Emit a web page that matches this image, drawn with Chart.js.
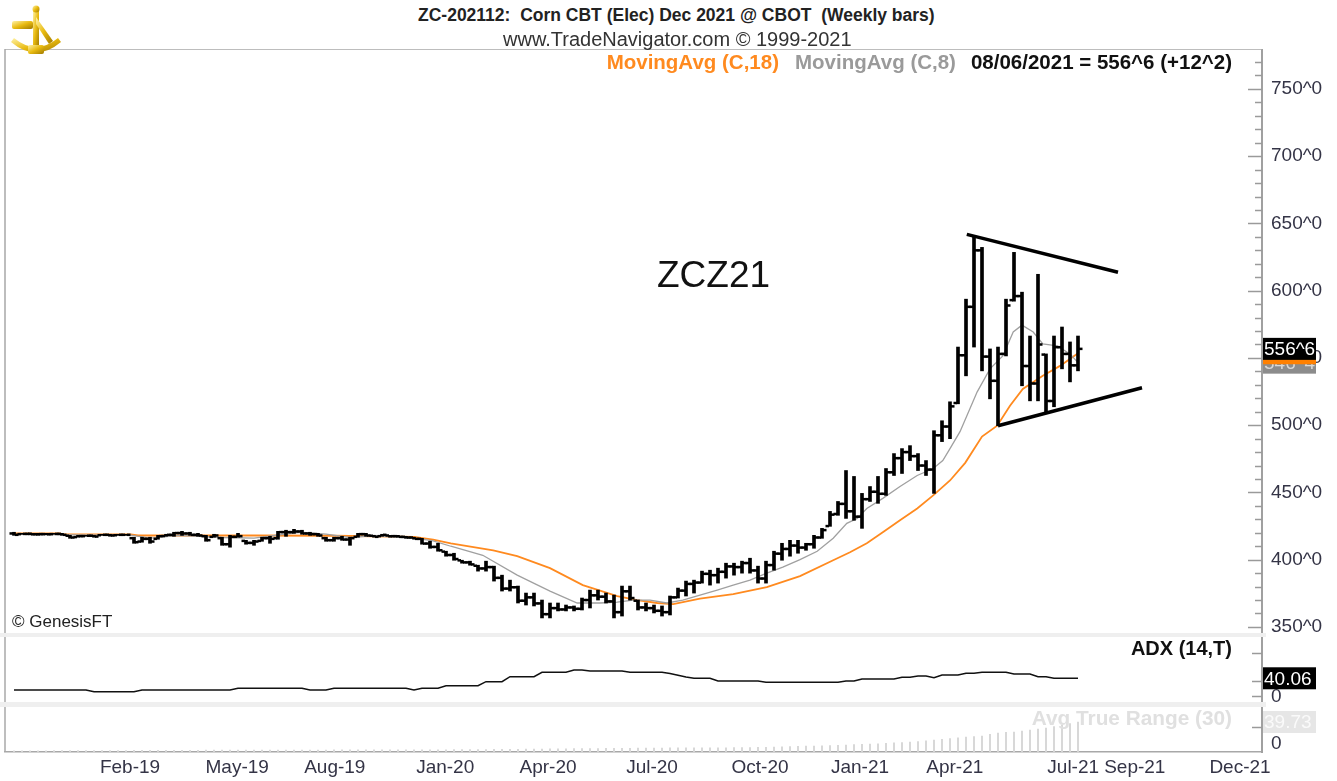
<!DOCTYPE html>
<html>
<head>
<meta charset="utf-8">
<script src="https://cdn.jsdelivr.net/npm/chart.js@4.4.0/dist/chart.umd.min.js"></script>
<style>
  body { margin: 0; background: #fff; width: 1337px; height: 781px; overflow: hidden; position: relative; font-family: "Liberation Sans", Arial, sans-serif; }
  canvas { position: absolute; left: 0; }
  .t { position: absolute; white-space: nowrap; line-height: 20px; }
  .band { position: absolute; left: 0; width: 1266px; background: #efefef; }
</style>
</head>
<body>
<canvas id="main" width="1337" height="584" style="top:49px"></canvas>
<div class="band" style="top:633px;height:4px"></div>
<canvas id="adx" width="1337" height="65" style="top:637px"></canvas>
<div class="band" style="top:702px;height:5px"></div>
<canvas id="atr" width="1337" height="74" style="top:707px"></canvas>

<svg style="position:absolute;left:8px;top:3px" width="56" height="56" viewBox="0 0 56 56">
  <defs>
    <linearGradient id="gold" x1="0" y1="0" x2="1" y2="1">
      <stop offset="0" stop-color="#fff3a8"/>
      <stop offset="0.5" stop-color="#e8ba10"/>
      <stop offset="1" stop-color="#a07a00"/>
    </linearGradient>
  </defs>
  <g fill="url(#gold)">
    <rect x="4" y="18" width="21" height="8" rx="2"/>
    <rect x="25" y="7" width="6" height="38"/>
    <circle cx="28" cy="6" r="3.5"/>
    <path d="M28 14 L45 38 L41 41 L28 21 Z"/>
    <path d="M3 39 Q28 60 53 39 L50 35 Q28 53 6 35 Z"/>
    <rect x="20" y="42" width="16" height="9" rx="2"/>
  </g>
</svg>

<div class="t" style="left:418px;top:5px;font-weight:bold;font-size:17.5px;color:#222">ZC-202112:&nbsp; Corn CBT (Elec) Dec 2021 @ CBOT&nbsp; (Weekly bars)</div>
<div class="t" style="left:503px;top:29px;font-size:20px;color:#333">www.TradeNavigator.com © 1999-2021</div>
<div class="t" style="right:105px;top:52px;font-weight:bold;font-size:20.5px">
  <span style="color:#ff8a1f">MovingAvg (C,18)</span><span style="color:#9a9a9a;margin-left:16px">MovingAvg (C,8)</span><span style="color:#111;margin-left:15px">08/06/2021 = 556^6 (+12^2)</span>
</div>
<div class="t" style="left:657px;top:253px;font-size:37px;line-height:44px;color:#111">ZCZ21</div>
<div class="t" style="left:12px;top:612px;font-size:17px;color:#222">© GenesisFT</div>
<div class="t" style="right:105px;top:638px;font-weight:bold;font-size:20px;color:#111">ADX (14,T)</div>
<div class="t" style="right:105px;top:708px;font-weight:bold;font-size:20.8px;color:#e0e0e0">Avg True Range (30)</div>

<script>
// weekly bars, index 0 = first week shown, 133 = 08/06/2021
const highs = [420.4,419.6,420.0,419.6,419.6,419.6,419.6,418.1,418.1,418.1,
  418.1,418.9,418.9,418.9,418.9,416.7,416.7,416.7,418.1,418.9,
  420.4,421.1,420.4,419.6,418.1,418.9,416.7,418.1,419.6,414.4,
  414.4,416.7,417.4,421.1,421.9,422.6,421.9,420.4,419.6,416.7,
  416.7,417.4,416.7,419.6,419.6,418.1,418.9,418.1,418.1,417.4,
  416.7,415.9,413.7,412.2,406.3,404.8,399.6,398.9,395.9,398.9,
  395.2,388.5,384.8,380.4,375.2,375.2,370.0,367.8,367.8,366.3,
  365.6,371.5,377.4,377.4,375.2,373.7,380.4,380.4,370.0,367.8,
  366.3,365.6,373.0,378.9,384.1,384.8,391.5,392.2,393.7,397.4,
  397.4,398.9,401.1,395.2,398.9,406.3,412.2,414.4,414.4,412.2,
  418.1,423.3,435.9,443.3,466.3,461.9,449.3,454.4,461.9,467.8,
  478.9,482.6,484.8,478.9,473.7,495.9,503.3,517.4,558.1,593.7,
  640.4,632.2,556.7,558.1,593.7,628.5,598.9,566.3,612.2,553.0,
  566.3,573.0,561.9,566.3];
const lows = [418.1,418.9,418.5,418.1,418.5,418.9,418.1,415.9,416.7,417.4,
  416.7,418.1,417.4,418.1,418.1,412.2,413.0,412.2,415.2,417.4,
  417.4,418.1,418.1,417.4,413.7,416.7,410.7,409.3,416.7,411.5,
  410.7,413.7,412.2,415.2,417.4,419.6,418.9,418.1,417.4,413.7,
  413.7,414.4,410.7,416.7,417.4,416.7,417.4,416.7,416.7,415.9,
  415.2,411.5,408.5,406.3,402.6,399.6,397.4,395.9,391.5,391.5,
  384.1,376.7,376.7,367.8,366.3,365.6,356.7,356.7,361.9,361.9,
  361.9,362.6,364.1,370.0,367.8,356.7,358.1,370.0,362.6,361.9,
  360.4,358.1,358.9,371.5,373.0,375.2,382.6,381.1,382.6,386.3,
  388.5,390.0,390.0,382.6,382.6,392.2,399.6,402.6,404.8,407.0,
  408.5,415.9,424.8,433.0,430.7,429.3,423.3,443.3,441.9,447.8,
  462.6,464.1,473.7,466.3,462.6,449.3,487.8,490.0,515.9,536.7,
  558.1,540.4,519.6,499.6,551.5,592.2,529.3,518.1,518.1,510.0,
  513.7,541.9,532.2,540.4];
const opens = [419.5,419.0,419.2,418.9,419.0,419.0,419.2,417.8,416.8,417.5,
  417.8,418.2,418.5,418.2,418.5,416.0,413.5,415.5,415.5,417.6,
  418.5,419.8,419.5,418.5,417.5,417.0,416.0,411.5,417.0,414.0,
  412.5,414.0,416.0,416.0,420.5,420.5,421.0,419.5,419.0,416.0,
  414.5,416.0,415.0,417.0,419.0,417.8,417.5,418.0,417.5,417.0,
  416.5,415.5,412.0,409.5,406.0,403.5,399.5,398.0,395.5,393.5,
  394.5,386.5,378.5,379.5,369.5,372.0,367.5,359.5,364.0,363.0,
  364.5,363.5,370.0,373.5,372.5,369.0,361.0,376.5,369.5,364.5,
  364.0,362.0,361.0,372.0,377.0,382.0,383.0,389.5,388.5,391.0,
  395.0,394.5,397.5,392.0,386.0,396.0,404.5,408.0,410.5,409.0,
  411.5,416.5,425.0,434.0,441.5,436.0,432.0,445.0,450.5,449.0,
  465.0,475.5,480.0,477.0,470.0,467.0,492.5,499.0,516.5,552.0,
  588.0,630.0,551.0,533.0,553.0,593.0,596.0,544.0,531.0,552.5,
  518.0,558.0,553.0,544.5];
const closes = [418.5,419.2,418.9,419.0,418.9,419.2,418.5,416.5,417.5,417.8,
  417.2,418.5,418.0,418.5,418.5,413.0,415.5,413.5,417.5,418.5,
  419.8,419.5,418.5,418.0,414.5,418.0,411.5,417.0,417.5,412.5,
  413.5,416.0,415.5,420.5,420.5,421.0,419.5,419.0,418.0,414.5,
  416.0,415.0,416.0,419.0,418.0,417.0,418.5,417.5,417.0,416.5,
  415.5,412.0,409.5,407.0,403.5,400.5,398.0,396.5,393.5,394.5,
  386.5,378.5,379.5,369.5,372.0,367.5,359.5,364.0,363.0,364.5,
  363.5,370.0,373.5,372.5,369.0,361.0,376.5,371.5,364.5,364.0,
  362.0,361.0,372.0,377.0,382.0,383.0,389.5,388.5,391.0,395.0,
  394.5,397.5,392.0,386.0,396.0,404.5,408.0,410.5,409.0,411.5,
  416.5,422.0,433.5,441.5,436.0,432.0,445.0,450.5,449.0,465.0,
  475.5,480.0,477.0,470.0,467.0,492.5,499.0,514.0,552.0,588.0,
  630.0,551.0,533.0,553.0,589.0,596.0,544.0,531.0,560.0,518.0,
  558.0,553.0,544.5,556.75];

// moving averages: [week index, value]
const ma18 = [[0,419.6],[5.75,419.5],[6,419.0],[14.6,418.9],[15.5,418.0],[30,418.0],[40,417.8],
  [50,416.9],[52.4,415.0],[54.6,412.2],[59.9,407.0],[62.9,402.6],[67,393.7],[71.1,381.1],
  [75.4,373.0],[77.9,370.0],[80.4,367.8],[82.4,367.0],[85.75,371.0],[89.9,374.4],[94.1,379.6],
  [98.25,387.8],[102.4,399.6],[104.5,405.5],[106.6,412.2],[108.6,420.4],[110.75,429.3],
  [112.9,438.1],[114.9,447.8],[117,458.9],[118.9,472.0],[121,491.5],[122.9,499.6],[124.5,514.4],
  [126.1,527.0],[128.6,536.7],[130.75,544.1],[133,553.5]];
const ma8 = [[0,418.9],[8,418.5],[14.6,418.3],[17,416.0],[20.75,418.1],[26,416.5],[30,416.0],
  [35.75,420.4],[39,419.0],[42,416.5],[45,418.0],[50.75,415.5],[52.4,414.0],[54.6,410.0],
  [58.6,403.3],[62.9,388.5],[67,376.7],[70.4,367.8],[73.25,367.8],[75.4,368.5],[77.4,370.0],
  [79.5,370.0],[81.6,367.8],[83.6,370.0],[85.75,373.7],[87.9,377.4],[89.9,381.1],[92,384.8],
  [94.1,390.0],[96.1,394.5],[98.25,400.0],[100.4,406.3],[102.4,415.9],[104.1,427.0],
  [105.4,430.7],[106.6,438.1],[108.6,445.6],[110.75,454.4],[112.9,462.6],[114.9,467.8],
  [116.1,473.7],[117,482.6],[118.25,495.2],[120.4,524.8],[122,541.9],[123.6,551.5],
  [124.9,569.3],[126,574.4],[127.4,569.3],[128.6,560.4],[130.4,558.9],[132,553.0],[133,546.5]];

// triangle drawn on the chart
const upperTrend = [[119.1,641.9],[138,613.7]];
const lowerTrend = [[123,499.6],[141,527.8]];

const adx = [13.6,13.6,13.6,13.6,13.6,13.6,13.6,13.6,13.6,13.6,
  9.7,9.7,9.7,9.7,9.7,9.7,13.6,13.6,13.6,13.6,
  13.6,13.6,13.6,13.6,13.6,13.6,13.6,13.6,17.4,17.4,
  17.4,17.4,17.4,17.4,17.4,17.4,17.4,13.6,13.6,13.6,
  17.4,17.4,17.4,17.4,17.4,17.4,17.4,17.4,17.4,17.4,
  13.6,17.4,17.4,17.4,23.3,23.3,23.3,23.3,23.3,32.4,
  32.4,32.4,43.7,43.7,43.7,43.7,53.6,53.6,53.6,53.6,
  58.8,58.8,56.6,56.6,56.6,56.6,56.6,53.6,53.6,53.6,
  53.6,53.6,51.0,47.0,43.0,40.0,40.0,40.0,33.9,33.9,
  33.9,33.9,33.9,33.9,31.0,31.0,31.0,31.0,31.0,31.0,
  31.0,31.0,31.0,31.0,33.9,33.9,38.5,38.5,38.5,38.5,
  38.5,42.3,42.3,45.2,45.2,41.4,47.5,47.5,47.5,51.4,
  51.4,53.6,53.6,53.6,53.6,49.8,49.8,49.8,43.7,43.7,
  40.06,40.06,40.06,40.06];
const atr = [1.6,1.6,1.7,1.7,1.7,1.8,1.8,1.9,1.9,1.9,
  1.9,1.9,2.0,2.0,2.0,2.1,2.1,2.2,2.2,2.2,
  2.3,2.3,2.3,2.3,2.4,2.4,2.4,2.5,2.5,2.5,
  2.6,2.6,2.6,2.6,2.7,2.7,2.7,2.7,2.7,2.7,
  2.8,2.8,2.8,2.8,2.8,2.8,2.8,2.8,2.8,2.8,
  2.8,2.9,2.9,3.0,3.0,3.1,3.1,3.2,3.2,3.3,
  3.4,3.5,3.6,3.7,3.8,3.9,4.0,4.1,4.2,4.3,
  4.4,4.4,4.5,4.6,4.7,4.8,4.9,5.0,5.1,5.2,
  5.3,5.3,5.4,5.4,5.5,5.5,5.5,5.6,5.6,5.6,
  5.7,5.8,5.9,6.1,6.3,6.5,6.8,7.1,7.4,7.7,
  7.9,8.1,8.4,8.8,9.3,9.7,10.1,10.5,10.9,11.4,
  12.0,12.6,13.2,13.9,14.8,15.9,16.8,17.7,18.8,19.9,
  20.5,21.2,23.3,25.2,25.9,26.5,27.8,29.1,30.4,31.8,
  33.8,35.8,37.7,39.73];

// date axis (week index of each label)
const tickPos = [14.5, 27.9, 40.1, 53.9, 66.75, 79.75, 93.25, 105.75, 117.6, 132.4, 140.1, 153.25];
const tickLabels = ['Feb-19','May-19','Aug-19','Jan-20','Apr-20','Jul-20','Oct-20','Jan-21','Apr-21','Jul-21','Sep-21','Dec-21'];
const priceLabels = [350, 400, 450, 500, 550, 600, 650, 700, 750];

const X_MIN = -1.125, X_MAX = 156;
const AXIS_W = 75;
const axisFont = { family: 'Liberation Sans', size: 19 };
const axisColor = '#343446';

function pts(list) { return list.map(p => ({ x: p[0], y: p[1] })); }

function fitY(s) { s.width = AXIS_W; s.paddingTop = 0; s.paddingBottom = 0; }

function xHidden() {
  return { type: 'linear', min: X_MIN, max: X_MAX, offset: false, display: false };
}

const frame = {
  id: 'frame',
  beforeDatasetsDraw(chart, args, opts) {
    const { ctx, chartArea: a } = chart;
    ctx.save();
    ctx.strokeStyle = '#a8a8a8';
    ctx.lineWidth = 1.5;
    ctx.beginPath();
    ctx.moveTo(a.left, a.bottom);
    ctx.lineTo(a.left, a.top);
    if (opts.top) ctx.lineTo(a.right, a.top);
    ctx.stroke();
    ctx.restore();
  }
};

const tickMarks = {
  id: 'tickMarks',
  afterDraw(chart, args, opts) {
    const s = chart.scales.y, ctx = chart.ctx;
    ctx.save();
    ctx.strokeStyle = '#9a9a9a';
    ctx.lineWidth = 1.5;
    (opts.marks || []).forEach(m => {
      const y = Math.round(s.getPixelForValue(m[0])) + 0.5;
      ctx.beginPath();
      ctx.moveTo(s.left - m[1], y);
      ctx.lineTo(s.left, y);
      ctx.stroke();
    });
    ctx.restore();
  }
};

const valueBoxes = {
  id: 'valueBoxes',
  afterDraw(chart, args, opts) {
    const s = chart.scales.y, ctx = chart.ctx;
    ctx.save();
    ctx.font = '19px "Liberation Sans"';
    ctx.textBaseline = 'middle';
    (opts.boxes || []).forEach(b => {
      const y = s.getPixelForValue(b.value);
      ctx.fillStyle = b.bg;
      ctx.fillRect(s.left + 1, y - 11, 53, 22);
      ctx.fillStyle = b.fg;
      ctx.fillText(b.text, s.left + 2, y + 1);
    });
    ctx.restore();
  }
};

// open tick to the left, close tick to the right of each high-low bar
const ohlcTicks = {
  id: 'ohlcTicks',
  afterDatasetsDraw(chart) {
    const { ctx, scales: { x, y } } = chart;
    ctx.save();
    ctx.fillStyle = '#000';
    for (let i = 0; i < closes.length; i++) {
      const px = x.getPixelForValue(i);
      ctx.fillRect(px - 4.5, y.getPixelForValue(opens[i]) - 1.25, 3.5, 2.5);
      ctx.fillRect(px + 1, y.getPixelForValue(closes[i]) - 1.25, 3.5, 2.5);
    }
    ctx.restore();
  }
};

// minor ticks every 10 on the price axis
const priceMarks = [];
for (let v = 350; v <= 770; v += 10) priceMarks.push([v, v % 50 === 0 ? 14 : 7]);

new Chart(document.getElementById('main'), {
  type: 'bar',
  data: {
    datasets: [
      {
        label: 'ohlc',
        data: highs.map((h, i) => ({ x: i, y: [lows[i], h] })),
        backgroundColor: '#000',
        barThickness: 3,
        order: 0
      },
      {
        type: 'line', label: 'MA18', data: pts(ma18),
        borderColor: '#ff8a1f', borderWidth: 1.8, pointRadius: 0, tension: 0, order: 2
      },
      {
        type: 'line', label: 'MA8', data: pts(ma8),
        borderColor: '#a0a0a0', borderWidth: 1.3, pointRadius: 0, tension: 0, order: 1
      },
      {
        type: 'line', label: 'up', data: pts(upperTrend),
        borderColor: '#000', borderWidth: 3.5, pointRadius: 0, order: -1
      },
      {
        type: 'line', label: 'down', data: pts(lowerTrend),
        borderColor: '#000', borderWidth: 3.5, pointRadius: 0, order: -1
      }
    ]
  },
  options: {
    responsive: false,
    animation: false,
    devicePixelRatio: 1,
    layout: { padding: { left: 5, right: 0, top: 0, bottom: 0 } },
    scales: {
      x: xHidden(),
      y: {
        type: 'linear',
        position: 'right',
        min: 345.5,
        max: 779.7,
        afterFit: fitY,
        afterBuildTicks: s => { s.ticks = priceLabels.map(v => ({ value: v })); },
        grid: { display: false, drawTicks: false },
        border: { display: true, color: '#a0a0a0', width: 2 },
        ticks: { font: axisFont, color: axisColor, padding: 9, callback: v => v + '^0' }
      }
    },
    plugins: {
      legend: { display: false },
      tooltip: { enabled: false },
      frame: { top: true },
      tickMarks: { marks: priceMarks },
      valueBoxes: {
        boxes: [
          { value: 546.5, text: '546^4', bg: '#8c8c8c', fg: '#d8d8d8' },
          { value: 553.5, text: '553^4', bg: '#ff8000', fg: '#ff8000' },
          { value: 556.75, text: '556^6', bg: '#000', fg: '#fff' }
        ]
      }
    }
  },
  plugins: [frame, ohlcTicks, tickMarks, valueBoxes]
});

new Chart(document.getElementById('adx'), {
  type: 'line',
  data: {
    datasets: [{
      label: 'ADX',
      data: adx.map((v, i) => ({ x: i, y: v })),
      borderColor: '#111', borderWidth: 1.5, pointRadius: 0, tension: 0
    }]
  },
  options: {
    responsive: false,
    animation: false,
    devicePixelRatio: 1,
    layout: { padding: { left: 5, right: 0, top: 0, bottom: 0 } },
    scales: {
      x: xHidden(),
      y: {
        type: 'linear',
        position: 'right',
        min: -13.6,
        max: 133.5,
        afterFit: fitY,
        afterBuildTicks: s => { s.ticks = [{ value: 0 }]; },
        grid: { display: false, drawTicks: false },
        border: { display: true, color: '#a0a0a0', width: 2 },
        ticks: { font: axisFont, color: axisColor, padding: 9, labelOffset: 1, callback: () => '0' }
      }
    },
    plugins: {
      legend: { display: false },
      tooltip: { enabled: false },
      frame: { top: false },
      tickMarks: { marks: [[0, 10], [35, 10], [97, 10]] },
      valueBoxes: { boxes: [{ value: 40.06, text: '40.06', bg: '#000', fg: '#fff' }] }
    }
  },
  plugins: [frame, tickMarks, valueBoxes]
});

new Chart(document.getElementById('atr'), {
  type: 'bar',
  data: {
    datasets: [{
      label: 'ATR',
      data: atr.map((v, i) => ({ x: i, y: v })),
      backgroundColor: '#d6d6d6',
      barThickness: 1.2
    }]
  },
  options: {
    responsive: false,
    animation: false,
    devicePixelRatio: 1,
    layout: { padding: { left: 5, right: 0, top: 0, bottom: 0 } },
    scales: {
      x: {
        type: 'linear',
        min: X_MIN,
        max: X_MAX,
        offset: false,
        afterBuildTicks: s => { s.ticks = tickPos.map(v => ({ value: v })); },
        afterFit: s => { s.height = 29; s.paddingLeft = 0; s.paddingRight = 0; },
        grid: { display: false, drawTicks: false },
        border: { display: true, color: '#a8a8a8', width: 1.5 },
        ticks: {
          font: axisFont, color: axisColor, padding: 4,
          autoSkip: false, maxRotation: 0,
          callback: (v, i) => tickLabels[i]
        }
      },
      y: {
        type: 'linear',
        position: 'right',
        min: 0,
        max: 59.6,
        afterFit: fitY,
        afterBuildTicks: s => { s.ticks = [{ value: 0 }]; },
        grid: { display: false, drawTicks: false },
        border: { display: true, color: '#a0a0a0', width: 2 },
        ticks: { font: axisFont, color: axisColor, padding: 9, labelOffset: -8, callback: () => '0' }
      }
    },
    plugins: {
      legend: { display: false },
      tooltip: { enabled: false },
      frame: { top: false },
      tickMarks: { marks: [[33, 10]] },
      valueBoxes: { boxes: [{ value: 39.73, text: '39.73', bg: '#e6e6e6', fg: '#fafafa' }] }
    }
  },
  plugins: [frame, tickMarks, valueBoxes]
});
</script>
</body>
</html>
